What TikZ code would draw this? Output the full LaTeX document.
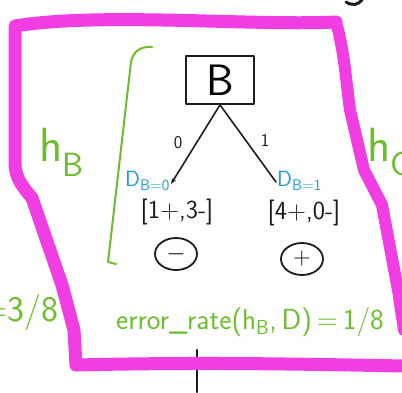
\documentclass[tikz,border=0pt]{standalone}
\usepackage{fontspec}
\usepackage{tikz}
\usetikzlibrary{positioning,arrows.meta,shapes.geometric}
\definecolor{frame}{HTML}{F03EE2}
\definecolor{note}{HTML}{6CBD2B}
\definecolor{subset}{HTML}{1F9AD6}
\definecolor{ink}{HTML}{1C1C1C}

\begin{document}
\begin{tikzpicture}[x=1pt, y=-1pt, font=\sffamily, line cap=round, line join=round,
  split/.style={draw=ink, line width=1.6pt},
  count/.style={text=ink, inner sep=1pt, font=\sffamily\fontsize{26}{26}\selectfont},
  subsetlbl/.style={text=subset, font=\sffamily\fontsize{22}{22}\selectfont},
  leaf/.style={draw=ink, line width=1.8pt, ellipse, minimum width=42pt, minimum height=32pt, inner sep=0pt, font=\sffamily\fontsize{24}{24}\selectfont},
  greentxt/.style={text=note}]
\useasboundingbox (0,0) rectangle (402,392);
% stray strokes from the page
\draw[ink, line width=2.5pt] (197,350) -- (197,392);
\draw[ink, line width=3pt] (346,2) .. controls (352,6) and (358,5) .. (362,0);
% magenta outline
\draw[frame, line width=13pt] (336,22) .. controls (250,26) and (100,12) .. (15,26)
  -- (15,165) .. controls (16,180) and (24,188) .. (32,198) -- (62,285) -- (74,330) -- (76,365)
  .. controls (200,362) and (300,364) .. (405,366);
\draw[frame, line width=12pt] (336,22) .. controls (344,50) and (346,80) .. (350,110)
  -- (364,170) -- (382,205) -- (398,290) -- (404,330);
% green bracket
\draw[note, line width=2pt] (152,47) .. controls (140,46) and (133,52) .. (131,62) -- (108,262) -- (116,264);
% tree
\node[draw=ink, line width=1.8pt, minimum width=68pt, minimum height=48pt, font=\sffamily\fontsize{44}{44}\selectfont] (root) at (220,80) {B};
\coordinate (l0) at (171,184);
\coordinate (l1) at (276,182);
\draw[split, -{Stealth[length=6pt]}] (root.south) -- (l0);
\draw[split] (root.south) -- (l1);
\node[text=ink, font=\sffamily\fontsize{18}{18}\selectfont] (e0) at (178,143) {0};
\node[text=ink, font=\sffamily\fontsize{18}{18}\selectfont] (e1) at (265,140) {1};
\node[subsetlbl, anchor=east, inner sep=1pt] (d0) at ([yshift=3pt]l0) {D\textsubscript{B=0}};
\node[subsetlbl, anchor=west, inner sep=1pt] (d1) at ([yshift=1pt]l1) {D\textsubscript{B=1}};
\node[count] (c0) at (177,212) {[1+,3-]};
\node[count] (c1) at (304,213) {[4+,0-]};
\node[leaf] (neg) at (176,254) {$-$};
\node[leaf] (pos) at (302,259) {+};
% green notes
\node[greentxt, font=\sffamily\fontsize{48}{48}\selectfont] (hb) at (62,152) {h\textsubscript{B}};
\node[greentxt, font=\sffamily\fontsize{48}{48}\selectfont, anchor=west] (hc) at (364,152) {h\textsubscript{C}};
\node[greentxt, font=\sffamily\fontsize{36}{36}\selectfont, anchor=east] (left) at (62,312) {=3/8};
\node[greentxt, font=\sffamily\fontsize{29}{29}\selectfont] (err) at (250,322) {error\_rate(h\textsubscript{B},\,D)\,=\,1/8};
\end{tikzpicture}
\end{document}
